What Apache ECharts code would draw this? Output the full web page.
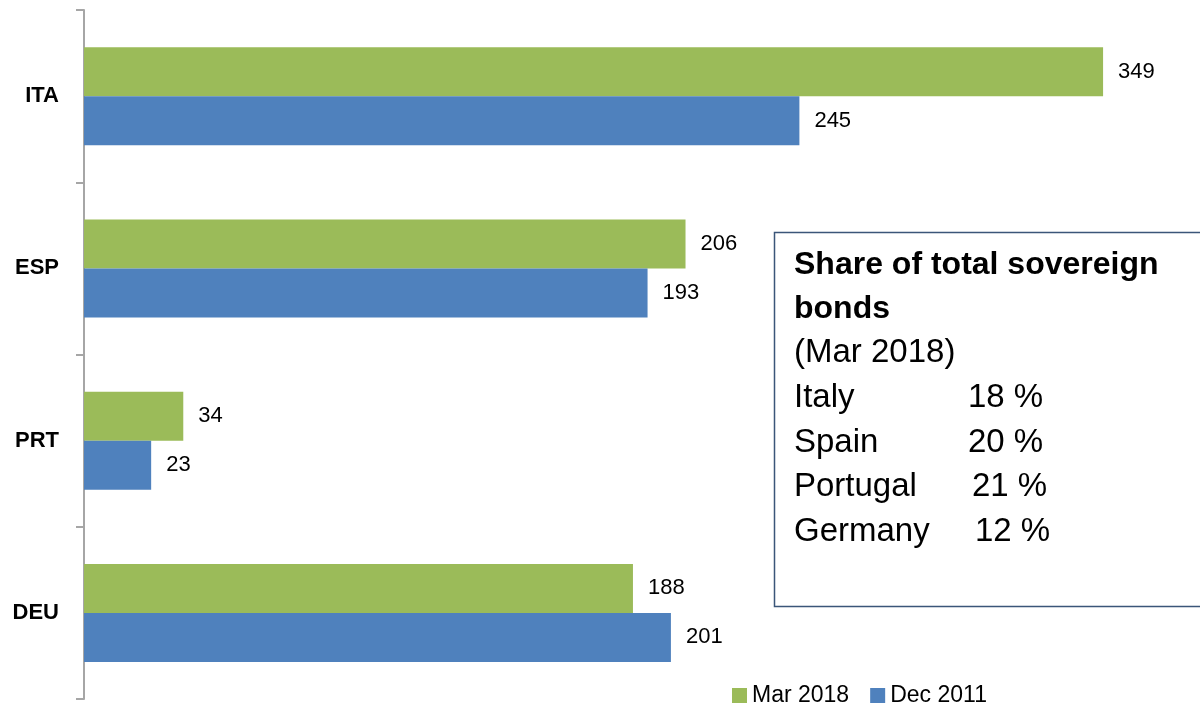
<!DOCTYPE html>
<html>
<head>
<meta charset="utf-8">
<script src="https://cdn.jsdelivr.net/npm/echarts@6/dist/echarts.min.js"></script>
<style>
  html, body { margin: 0; padding: 0; background: #fff; }
  #chart { width: 1200px; height: 705px; }
</style>
</head>
<body>
<div id="chart"></div>
<script>
// 国家类别（从上到下）
const categories = ['ITA', 'ESP', 'PRT', 'DEU']
const mar2018 = [349, 206, 34, 188]
const dec2011 = [245, 193, 23, 201]
const shareNames = ['Italy', 'Spain', 'Portugal', 'Germany']
const shareValues = ['18 %', '20 %', '21 %', '12 %']

const font = 'Liberation Sans, Arial, sans-serif'
const chart = echarts.init(document.getElementById('chart'))

const labelStyle = {
  show: true,
  position: 'right',
  distance: 15,
  color: '#000',
  fontSize: 22,
  fontFamily: font,
}

// 文本框
const boxX = 794
const graphic = [
  {
    type: 'rect',
    shape: { x: 774.5, y: 232.5, width: 460, height: 374 },
    style: { fill: '#fff', stroke: '#3b5679', lineWidth: 1.5 },
    z: 10,
  },
  {
    type: 'text',
    x: boxX, y: 265,
    style: { text: 'Share of total sovereign', font: 'bold 32px ' + font, fill: '#000', verticalAlign: 'middle' },
    z: 11,
  },
  {
    type: 'text',
    x: boxX, y: 309,
    style: { text: 'bonds', font: 'bold 32px ' + font, fill: '#000', verticalAlign: 'middle' },
    z: 11,
  },
  {
    type: 'text',
    x: boxX, y: 353,
    style: { text: '(Mar 2018)', font: '33px ' + font, fill: '#000', verticalAlign: 'middle' },
    z: 11,
  },
]
const valueX = [968, 968, 972, 975]
shareNames.forEach((n, i) => {
  graphic.push({
    type: 'text',
    x: boxX, y: 398 + i * 44.7,
    style: { text: n, font: '33px ' + font, fill: '#000', verticalAlign: 'middle' },
    z: 11,
  })
  graphic.push({
    type: 'text',
    x: valueX[i], y: 398 + i * 44.7,
    style: { text: shareValues[i], font: '33px ' + font, fill: '#000', verticalAlign: 'middle' },
    z: 11,
  })
})

const option = {
  animation: false,
  backgroundColor: '#fff',
  grid: { left: 84, top: 10, width: 1022, bottom: 6, containLabel: false },
  legend: {
    left: 727,
    top: 679,
    itemWidth: 15,
    itemHeight: 15,
    itemGap: 21,
    icon: 'rect',
    textStyle: { fontSize: 23, color: '#000', fontFamily: font },
    data: ['Mar 2018', 'Dec 2011'],
  },
  xAxis: {
    type: 'value',
    min: 0,
    max: 350,
    show: false,
  },
  yAxis: {
    type: 'category',
    data: categories,
    inverse: true,
    axisLine: { show: true, lineStyle: { color: '#a6a6a6', width: 2 } },
    axisTick: { show: true, length: 8, lineStyle: { color: '#a6a6a6', width: 2 } },
    axisLabel: { color: '#000', fontSize: 22, fontWeight: 'bold', fontFamily: font, margin: 25 },
    splitLine: { show: false },
  },
  series: [
    {
      name: 'Mar 2018',
      type: 'bar',
      data: mar2018,
      barWidth: 49,
      barGap: '0%',
      itemStyle: { color: '#9bbb59' },
      label: labelStyle,
    },
    {
      name: 'Dec 2011',
      type: 'bar',
      data: dec2011,
      barWidth: 49,
      barGap: '0%',
      itemStyle: { color: '#4f81bd' },
      label: labelStyle,
    },
  ],
  graphic: graphic,
}
chart.setOption(option)
</script>
</body>
</html>
